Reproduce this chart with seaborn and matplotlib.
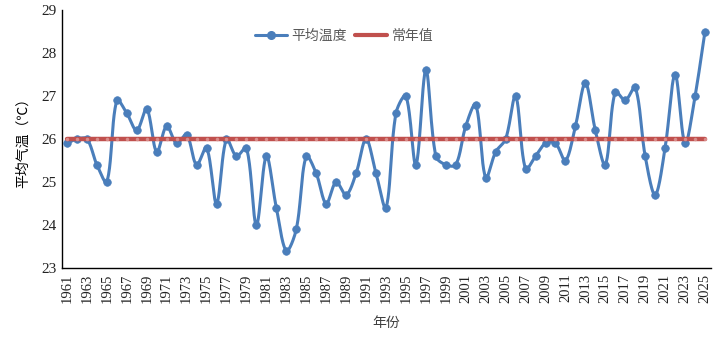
import numpy as np
import pandas as pd
import matplotlib
matplotlib.use("Agg")
import matplotlib.pyplot as plt
import seaborn as sns
from matplotlib.ticker import FixedLocator
from matplotlib.lines import Line2D

years = list(range(1961, 2026))
avg_temp = [25.9, 26.0, 26.0, 25.4, 25.0, 26.9, 26.6, 26.2, 26.7, 25.7,
            26.3, 25.9, 26.1, 25.4, 25.8, 24.5, 26.0, 25.6, 25.8, 24.0,
            25.6, 24.4, 23.4, 23.9, 25.6, 25.2, 24.5, 25.0, 24.7, 25.2,
            26.0, 25.2, 24.4, 26.6, 27.0, 25.4, 27.6, 25.6, 25.4, 25.4,
            26.3, 26.8, 25.1, 25.7, 26.0, 27.0, 25.3, 25.6, 25.9, 25.9,
            25.5, 26.3, 27.3, 26.2, 25.4, 27.1, 26.9, 27.2, 25.6, 24.7,
            25.8, 27.5, 25.9, 27.0, 28.5]
normal_value = [26.0] * len(years)
label_avg = "平均温度"
label_norm = "常年值"
xlabel = "年份"
ylabel = "平均气温（℃）"

blue = "#4A7EBB"
red = "#C0504D"

df = pd.DataFrame({"year": years, "temp": avg_temp, "normal": normal_value})


def smooth(x, y, sx=10.0, sy=43.0, n=24):
    # Excel-like smoothed line: Bezier segments with chord-length weighted tangents
    x = np.asarray(x, float)
    y = np.asarray(y, float)
    P = np.column_stack([x * sx, y * sy])
    xs, ys = [], []
    m = len(P)
    for i in range(m - 1):
        p0 = P[max(i - 1, 0)]
        p1 = P[i]
        p2 = P[i + 1]
        p3 = P[min(i + 2, m - 1)]
        d01 = np.linalg.norm(p1 - p0)
        d12 = np.linalg.norm(p2 - p1)
        d23 = np.linalg.norm(p3 - p2)
        f1 = d12 / (d01 + d12) if d01 + d12 > 0 else 0
        f2 = d12 / (d12 + d23) if d12 + d23 > 0 else 0
        c1 = p1 + (p2 - p0) * f1 / 3.0
        c2 = p2 - (p3 - p1) * f2 / 3.0
        t = np.linspace(0, 1, n, endpoint=False)[:, None]
        pts = ((1 - t) ** 3) * p1 + 3 * ((1 - t) ** 2) * t * c1 + 3 * (1 - t) * t ** 2 * c2 + t ** 3 * p2
        xs.extend(pts[:, 0] / sx); ys.extend(pts[:, 1] / sy)
    xs.append(x[-1]); ys.append(y[-1])
    return np.array(xs), np.array(ys)


sns.set_theme(style="white")
plt.rcParams["font.family"] = ["Noto Sans CJK SC", "DejaVu Sans"]

fig = plt.figure(figsize=(7.16, 3.37), dpi=100)
ax = fig.add_axes([62 / 716, 1 - 268 / 337, (711 - 62) / 716, (268 - 10) / 337])

sx_, sy_ = smooth(df["year"], df["temp"])
sm = pd.DataFrame({"x": sx_, "y": sy_})
sns.lineplot(data=sm, x="x", y="y", ax=ax, color=blue, linewidth=2.2, sort=False, zorder=3)
sns.scatterplot(data=df, x="year", y="temp", ax=ax, color=blue, s=30, edgecolor=blue,
                linewidth=0.5, zorder=4)
sns.lineplot(data=df, x="year", y="normal", ax=ax, color=red, linewidth=3.2,
             marker="o", markersize=2.5, markerfacecolor="#D98C8A",
             markeredgewidth=0, zorder=5)

ax.set_xlim(1960.5, 2025.6)
ax.set_ylim(23, 29)
ax.set_yticks(range(23, 30))
ax.set_xticks(years[::2])
ax.xaxis.set_minor_locator(FixedLocator(np.arange(1964.5, 2026, 4)))

ax.set_xticklabels([str(y) for y in years[::2]], rotation=90)
ax.set_yticklabels([str(v) for v in range(23, 30)])
ax.tick_params(axis="x", which="major", length=0, pad=4, colors="#222222")
ax.tick_params(axis="x", which="minor", length=4, direction="in", width=1, color="black")
ax.tick_params(axis="y", which="major", length=4, direction="in", width=1, color="black", pad=4,
               labelcolor="#222222")

serif = ["Liberation Serif", "DejaVu Serif"]
for lab in ax.get_xticklabels():
    lab.set_fontfamily(serif)
    lab.set_fontsize(10.5)
for lab in ax.get_yticklabels():
    lab.set_fontfamily(serif)
    lab.set_fontsize(11)

for s in ["top", "right"]:
    ax.spines[s].set_visible(False)
for s in ["left", "bottom"]:
    ax.spines[s].set_color("black")
    ax.spines[s].set_linewidth(1.0)

ax.set_xlabel(xlabel, fontsize=10, color="#404040", labelpad=9)
ax.set_ylabel(ylabel, fontsize=10, color="black", labelpad=8)

handles = [Line2D([0], [0], color=blue, lw=2.2, marker="o", markersize=5.5),
           Line2D([0], [0], color=red, lw=3)]
leg = ax.legend(handles, [label_avg, label_norm], loc="upper center",
                bbox_to_anchor=(0.435, 0.975), ncol=2, frameon=False, fontsize=10,
                handlelength=2.3, handletextpad=0.3, columnspacing=0.6)
for t in leg.get_texts():
    t.set_color("#595959")

fig.savefig("out.png", dpi=100)
